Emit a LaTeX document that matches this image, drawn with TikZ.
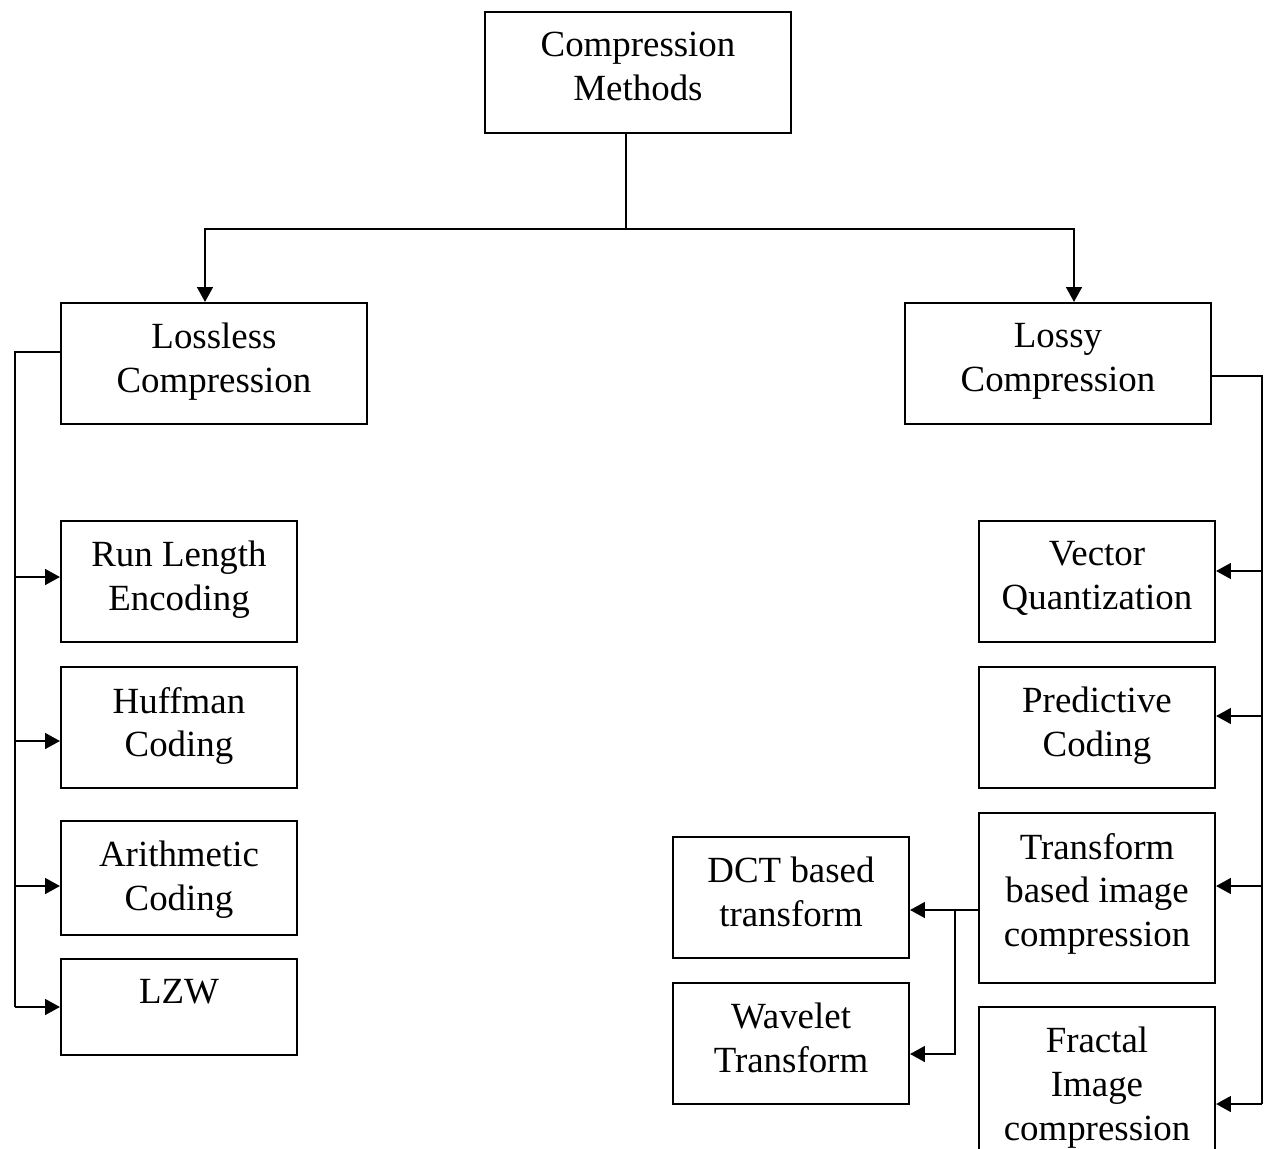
\documentclass[tikz,border=0pt]{standalone}
\usepackage{fontspec}
\setmainfont{Liberation Serif}
\usetikzlibrary{arrows.meta,positioning}

\tikzset{
  box/.style={draw, line width=1.2pt, inner sep=0pt},
  widebox/.style={box, minimum width=6.12cm, minimum height=2.42cm},
  leafbox/.style={box, minimum width=4.72cm, minimum height=2.42cm},
  boxtxt/.style={anchor=north, yshift=-0.42cm, align=center, inner sep=0pt,
    font=\fontsize{21}{24.8}\selectfont},
  link/.style={line width=1.2pt}
}

\begin{document}
\begin{tikzpicture}[x=0.02cm, y=-0.02cm, >={Triangle[length=8.5pt,width=9pt]}]
  \useasboundingbox (0,0) rectangle (1264,1149);

  % Bovenste niveau
  \node[widebox, label={[boxtxt]90:{Compression\\Methods}}] (methods) at (638,72.5) {};
  \node[widebox, label={[boxtxt]90:{Lossless\\Compression}}] (lossless) at (214,363.5) {};
  \node[widebox, label={[boxtxt]90:{Lossy\\Compression}}] (lossy) at (1058,363.5) {};

  % Lossless methoden
  \node[leafbox, label={[boxtxt]90:{Run Length\\Encoding}}] (rle) at (179,581.5) {};
  \node[leafbox, label={[boxtxt]90:{Huffman\\Coding}}] (huffman) at (179,727.5) {};
  \node[leafbox, minimum height=2.28cm, label={[boxtxt]90:{Arithmetic\\Coding}}] (arith) at (179,878) {};
  \node[leafbox, minimum height=1.92cm, label={[boxtxt]90:LZW}] (lzw) at (179,1007) {};

  % Lossy methoden
  \node[leafbox, label={[boxtxt]90:{Vector\\Quantization}}] (vq) at (1097,581.5) {};
  \node[leafbox, label={[boxtxt]90:{Predictive\\Coding}}] (pred) at (1097,727.5) {};
  \node[leafbox, minimum height=3.4cm, label={[boxtxt]90:{Transform\\based image\\compression}}] (transform) at (1097,898) {};
  \node[leafbox, minimum height=3.4cm, label={[boxtxt]90:{Fractal\\Image\\compression}}] (fractal) at (1097,1092) {};
  \node[leafbox, label={[boxtxt]90:{DCT based\\transform}}] (dct) at (791,897.5) {};
  \node[leafbox, label={[boxtxt]90:{Wavelet\\Transform}}] (wavelet) at (791,1043.5) {};

  % Splitsing bovenaan
  \coordinate (split) at (626,229);
  \coordinate (lbend) at (205,229);
  \coordinate (rbend) at (1074,229);
  \draw[link] (methods.south -| split) -- (split);
  \draw[link,->] (split) -- (lbend) -- (lbend |- lossless.north);
  \draw[link,->] (split) -- (rbend) -- (rbend |- lossy.north);

  % Linker verzamellijn
  \coordinate (lbus) at (15,352);
  \draw[link] (lossless.west |- lbus) -- (lbus) -- (15,1007);
  \foreach \n/\y in {rle/577, huffman/741, arith/886, lzw/1007}
    \draw[link,->] (15,\y) -- (\n.west |- 15,\y);

  % Rechter verzamellijn
  \coordinate (rbus) at (1262,376);
  \draw[link] (lossy.east |- rbus) -- (rbus) -- (1262,1104);
  \foreach \n/\y in {vq/571, pred/716, transform/886, fractal/1104}
    \draw[link,->] (1262,\y) -- (\n.east |- 1262,\y);

  % Transform takken
  \coordinate (tsplit) at (955,910);
  \draw[link,->] (transform.west |- tsplit) -- (dct.east |- tsplit);
  \draw[link,->] (tsplit) -- (955,1054) -- (wavelet.east |- 955,1054);
\end{tikzpicture}
\end{document}
